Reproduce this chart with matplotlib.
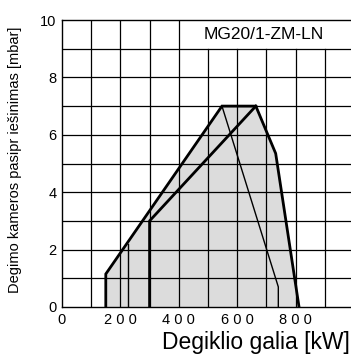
import matplotlib.pyplot as plt
import numpy as np

plt.rcParams['font.family'] = ['Liberation Sans', 'DejaVu Sans']

# working range outline (kW, mbar)
range_x = [150, 150, 548, 664, 732, 812]
range_y = [0, 1.15, 7.0, 7.0, 5.35, 0]

# inner curves
stage_x = [300, 300, 664]
stage_y = [0, 3.0, 7.0]
thin_x = [548, 741, 741]
thin_y = [7.0, 0.7, 0]
low_x = [225, 225]
low_y = [0, 2.2]

x_ticks = [0, 200, 400, 600, 800]
x_labels = ['0', '2 0 0', '4 0 0', '6 0 0', '8 0 0']
y_ticks = [0, 2, 4, 6, 8, 10]

fig = plt.figure(figsize=(3.51, 3.61), dpi=100)
ax = fig.add_axes([62 / 351, 54 / 361, 289 / 351, 287 / 361])

ax.set_xlim(0, 990)
ax.set_ylim(0, 10)

ax.fill(range_x, range_y, color='#dcdcdc', zorder=1)
# grid, vertical lines stop under the model label on the right
for gx in np.arange(100, 1000, 100):
    ax.plot([gx, gx], [0, 10 if gx <= 400 else 9], color='black', lw=0.9, zorder=2)
for gy in np.arange(1, 10, 1):
    ax.axhline(gy, color='black', lw=0.9, zorder=2)

ax.plot(range_x, range_y, color='black', lw=2.0, zorder=4, solid_joinstyle='miter')
ax.plot(stage_x, stage_y, color='black', lw=2.0, zorder=4)
ax.plot(thin_x, thin_y, color='black', lw=1.0, zorder=3)
ax.plot(low_x, low_y, color='black', lw=1.0, zorder=3)

ax.text(692, 9.5, 'MG20/1-ZM-LN', ha='center', va='center', fontsize=12.5)

ax.set_xticks(x_ticks)
ax.set_xticklabels(x_labels)
ax.set_yticks(y_ticks)
ax.tick_params(length=0, labelsize=10.5, pad=4)
ax.spines['right'].set_visible(False)
for s in ['left', 'top', 'bottom']:
    ax.spines[s].set_linewidth(1.0)

fig.text(0.997, 0.05, 'Degiklio galia [kW]', ha='right', va='center', fontsize=16.5)
fig.text(0.043, 0.557, 'Degimo kameros pasipr iešinimas [mbar]', ha='center',
         va='center', rotation=90, fontsize=10.5)

fig.savefig('out.png', dpi=100)
